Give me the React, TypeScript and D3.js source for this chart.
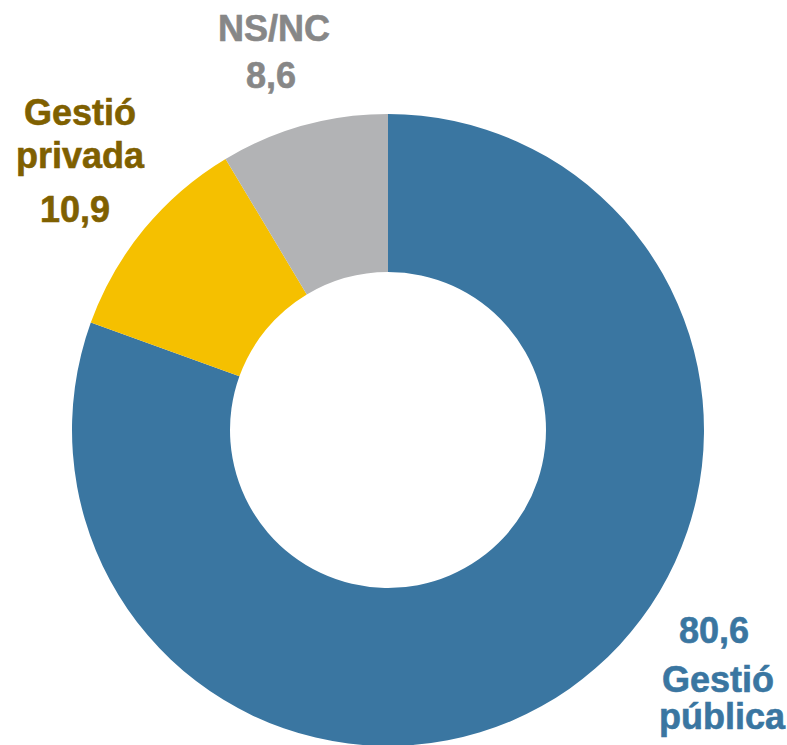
import React, { useEffect, useRef } from 'react';
import * as d3 from 'd3';

const categories = ['Gestió pública', 'Gestió privada', 'NS/NC'];
const values = [80.6, 10.9, 8.6];
const valueLabels = ['80,6', '10,9', '8,6'];
const sliceColors = ['#3A76A1', '#F5C000', '#B2B3B5'];
const textColors = ['#3A76A1', '#7F6000', '#878787'];

interface Slice {
  name: string;
  value: number;
}

const data: Slice[] = categories.map((c, i) => ({ name: c, value: values[i] }));

const App: React.FC = () => {
  const ref = useRef<SVGSVGElement>(null);

  useEffect(() => {
    const width = 787;
    const height = 745;
    const cx = 388;
    const cy = 430;
    const outer = 316;
    const inner = 158;

    const svg = d3.select(ref.current);
    svg.selectAll('*').remove();

    const g = svg.append('g').attr('transform', `translate(${cx}, ${cy})`);

    const color = d3.scaleOrdinal<string>().domain(categories).range(sliceColors);
    const pie = d3.pie<Slice>().sort(null).value((d) => d.value);
    const arc = d3.arc<d3.PieArcDatum<Slice>>().innerRadius(inner).outerRadius(outer);

    g.selectAll('path')
      .data(pie(data))
      .enter()
      .append('path')
      .attr('d', arc)
      .attr('fill', (d) => color(d.data.name));

    // labels: lines of text per slice
    const labelLines = [
      { lines: [valueLabels[0], 'Gestió', 'pública'], xs: [714, 718, 722], ys: [643, 692, 729] },
      { lines: ['Gestió', 'privada', valueLabels[1]], xs: [80, 80, 75], ys: [125, 168, 222] },
      { lines: [categories[2], valueLabels[2]], xs: [274, 271], ys: [41, 88] },
    ];

    labelLines.forEach((lab, i) => {
      lab.lines.forEach((t, j) => {
        svg
          .append('text')
          .attr('x', lab.xs[j])
          .attr('y', lab.ys[j])
          .attr('text-anchor', 'middle')
          .attr('font-family', '"Liberation Sans", Arial, sans-serif')
          .attr('font-weight', 'bold')
          .attr('font-size', 36)
          .attr('fill', textColors[i])
          .attr('stroke', textColors[i])
          .attr('stroke-width', 0.6)
          .text(t);
      });
    });

    svg.attr('width', width).attr('height', height);
  }, []);

  return (
    <svg
      ref={ref}
      width={787}
      height={745}
      style={{ position: 'absolute', left: 0, top: 0, background: '#fff' }}
    ></svg>
  );
};

export default App;
